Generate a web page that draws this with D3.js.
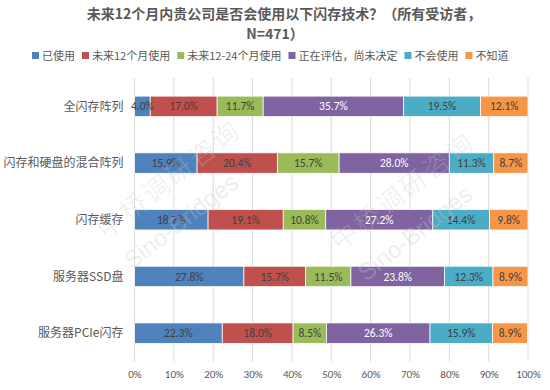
<!DOCTYPE html>
<html>
<head>
<meta charset="utf-8">
<script src="https://cdn.jsdelivr.net/npm/d3@7"></script>
<style>
  body { margin: 0; background: #fff; }
  svg text { font-family: "Noto Sans CJK SC", "Noto Sans", sans-serif; }
</style>
</head>
<body>
<div id="chart"></div>
<script>
// data
var categories = ['全闪存阵列', '闪存和硬盘的混合阵列', '闪存缓存', '服务器SSD盘', '服务器PCIe闪存'];
var seriesNames = ['已使用', '未来12个月使用', '未来12-24个月使用', '正在评估，尚未决定', '不会使用', '不知道'];
var used       = [4.0, 15.9, 18.7, 27.8, 22.3];
var next12     = [17.0, 20.4, 19.1, 15.7, 18.0];
var next12to24 = [11.7, 15.7, 10.8, 11.5, 8.5];
var evaluating = [35.7, 28.0, 27.2, 23.8, 26.3];
var never      = [19.5, 11.3, 14.4, 12.3, 15.9];
var unknown    = [12.1, 8.7, 9.8, 8.9, 8.9];
var xTicks = [0, 10, 20, 30, 40, 50, 60, 70, 80, 90, 100];

var colors = ['#4f81bd', '#c0504d', '#9bbb59', '#8064a2', '#4bacc6', '#f79646'];
var labelColors = ['#404040', '#404040', '#404040', '#ffffff', '#404040', '#404040'];

var w = 550, h = 390;
var margin = {top: 78, right: 22, bottom: 28, left: 134.5};

var svg = d3.select('#chart').append('svg')
  .attr('width', w)
  .attr('height', h);

// build table for stack
var table = categories.map(function(c, i) {
  return {cat: c, s0: used[i], s1: next12[i], s2: next12to24[i], s3: evaluating[i], s4: never[i], s5: unknown[i]};
});
var keys = ['s0', 's1', 's2', 's3', 's4', 's5'];
var stacked = d3.stack().keys(keys)(table);

var xScale = d3.scaleLinear()
  .domain([0, 100])
  .range([margin.left, w - margin.right]);

var yScale = d3.scaleBand()
  .domain(categories)
  .range([margin.top, h - margin.bottom - 0.5])
  .paddingInner(0.64)
  .paddingOuter(0.32);

// gridlines
svg.append('g')
  .selectAll('line')
  .data(xTicks)
  .enter()
  .append('line')
  .attr('x1', d => xScale(d))
  .attr('x2', d => xScale(d))
  .attr('y1', margin.top)
  .attr('y2', h - margin.bottom - 0.5)
  .attr('stroke', '#d9d9d9')
  .attr('stroke-width', 1);

// bars
var groups = svg.append('g')
  .selectAll('g')
  .data(stacked)
  .enter()
  .append('g')
  .attr('fill', (d, i) => colors[i]);

groups.selectAll('rect')
  .data(d => d)
  .enter()
  .append('rect')
  .attr('x', d => xScale(d[0]))
  .attr('y', d => yScale(d.data.cat))
  .attr('width', d => xScale(d[1]) - xScale(d[0]))
  .attr('height', yScale.bandwidth())
  .attr('stroke', '#fff')
  .attr('stroke-width', 0.75);

// data labels
stacked.forEach(function(layer, i) {
  svg.append('g')
    .selectAll('text')
    .data(layer)
    .enter()
    .append('text')
    .attr('x', d => (xScale(d[0]) + xScale(d[1])) / 2)
    .attr('y', d => yScale(d.data.cat) + yScale.bandwidth() / 2)
    .attr('dy', '0.36em')
    .attr('text-anchor', 'middle')
    .attr('font-size', 11.5)
    .attr('fill', labelColors[i])
    .style('font-family', 'Calibri, Carlito, "Liberation Sans", sans-serif')
    .text(d => (d[1] - d[0]).toFixed(1) + '%');
});

// y axis labels
svg.append('g')
  .selectAll('text')
  .data(categories)
  .enter()
  .append('text')
  .attr('x', margin.left - 11)
  .attr('y', d => yScale(d) + yScale.bandwidth() / 2)
  .attr('dy', '0.36em')
  .attr('text-anchor', 'end')
  .attr('font-size', 12)
  .attr('fill', '#595959')
  .text(d => d);

// x axis
var xAxis = d3.axisBottom(xScale)
  .tickValues(xTicks)
  .tickSize(0)
  .tickPadding(9)
  .tickFormat(d => d + '%');

svg.append('g')
  .attr('class', 'xaxis')
  .attr('transform', 'translate(0,' + (h - margin.bottom - 0.5) + ')')
  .call(xAxis)
  .call(g => g.select('.domain').remove())
  .selectAll('text')
  .attr('font-size', 11)
  .attr('fill', '#595959')
  .style('font-family', 'Calibri, Carlito, "Liberation Sans", sans-serif');

// title
svg.append('text')
  .attr('x', 284)
  .attr('y', 19)
  .attr('text-anchor', 'middle')
  .attr('font-size', 14)
  .attr('font-weight', 'bold')
  .attr('fill', '#595959')
  .text('未来12个月内贵公司是否会使用以下闪存技术？（所有受访者，');

svg.append('text')
  .attr('x', 275)
  .attr('y', 39)
  .attr('text-anchor', 'middle')
  .attr('font-size', 14)
  .attr('font-weight', 'bold')
  .attr('fill', '#595959')
  .text('N=471）');

// legend
var legend = svg.append('g').attr('transform', 'translate(32,56)');
var lx = 0;
seriesNames.forEach(function(name, i) {
  var item = legend.append('g').attr('transform', 'translate(' + lx + ',0)');
  item.append('rect')
    .attr('x', 0).attr('y', -4)
    .attr('width', 7).attr('height', 7)
    .attr('fill', colors[i]);
  var t = item.append('text')
    .attr('x', 10)
    .attr('y', 0)
    .attr('dy', '0.36em')
    .attr('font-size', 11)
    .attr('fill', '#595959')
    .text(name);
  lx += 10 + t.node().getComputedTextLength() + 7;
});

// watermark
var marks = [{x: 106, y: 240}, {x: 340, y: 252}];
marks.forEach(function(m) {
  svg.append('text')
    .attr('transform', 'translate(' + m.x + ',' + m.y + ') rotate(-38)')
    .attr('font-size', 26)
    .attr('font-weight', 300)
    .attr('fill', '#c8c8c8')
    .attr('opacity', 0.3)
    .style('letter-spacing', '3px')
    .text('中桥调研咨询');
  svg.append('text')
    .attr('transform', 'translate(' + (m.x + 26) + ',' + (m.y + 30) + ') rotate(-38)')
    .attr('font-size', 24)
    .attr('fill', '#c8c8c8')
    .attr('opacity', 0.3)
    .style('font-family', '"Liberation Sans", sans-serif')
    .text('Sino-Bridges');
});
</script>
</body>
</html>
